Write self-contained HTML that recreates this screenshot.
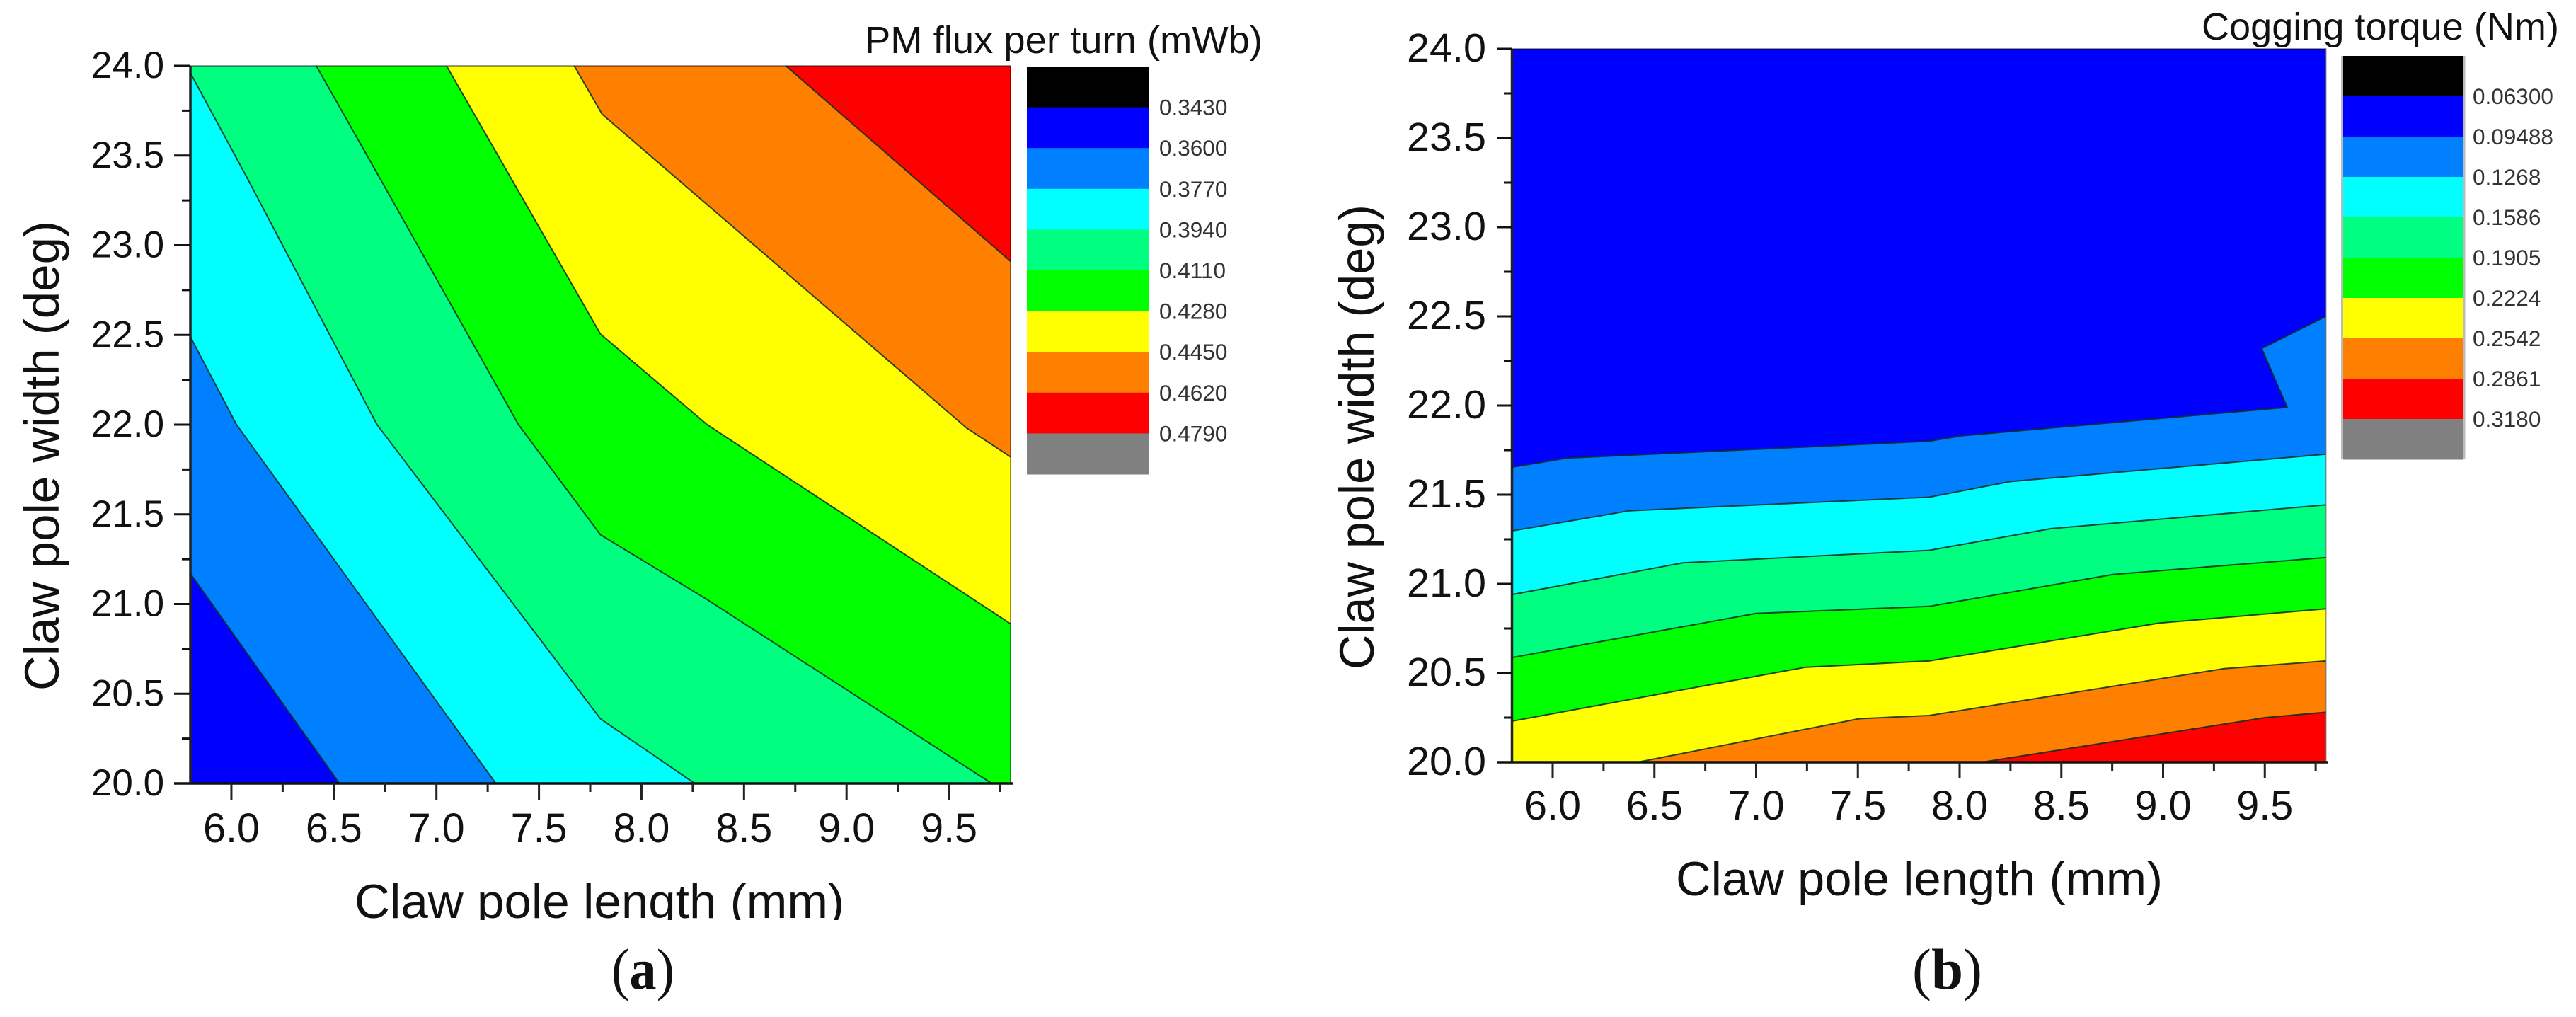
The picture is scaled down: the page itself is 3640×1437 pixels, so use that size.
<!DOCTYPE html>
<html lang="en">
<head>
<meta charset="utf-8">
<title>Claw pole contour plots</title>
<style>
html,body{margin:0;padding:0;background:#fff;}
body{width:3640px;height:1437px;overflow:hidden;}
svg{display:block;}
text{font-family:"Liberation Sans",Arial,sans-serif;fill:#111;}
.caption{font-family:"Liberation Serif","Times New Roman",serif;}
</style>
</head>
<body>
<svg id="figure" xmlns="http://www.w3.org/2000/svg" width="3640" height="1437" viewBox="0 0 3640 1437">
  <rect x="0" y="0" width="3640" height="1437" fill="#ffffff"/>
  <defs>
    <clipPath id="clip-xtitle-a"><rect x="400" y="1200" width="900" height="100"/></clipPath>
  </defs>

  <g id="panel-a"></g>
  <text x="1222" y="75" font-size="54" textLength="562" lengthAdjust="spacingAndGlyphs">PM flux per turn (mWb)</text>
  <text x="501" y="1297" font-size="68" textLength="692" lengthAdjust="spacingAndGlyphs" clip-path="url(#clip-xtitle-a)">Claw pole length (mm)</text>
  <text transform="translate(83,976) rotate(-90)" font-size="69" textLength="664" lengthAdjust="spacingAndGlyphs">Claw pole width (deg)</text>
  <text class="caption" x="864" y="1397" font-size="82" textLength="89" lengthAdjust="spacingAndGlyphs">(<tspan font-weight="bold">a</tspan>)</text>

  <g id="panel-b"></g>
  <text x="3111" y="56" font-size="54" textLength="505" lengthAdjust="spacingAndGlyphs">Cogging torque (Nm)</text>
  <text x="2368" y="1265" font-size="68" textLength="688" lengthAdjust="spacingAndGlyphs">Claw pole length (mm)</text>
  <text transform="translate(1941,946) rotate(-90)" font-size="69" textLength="657" lengthAdjust="spacingAndGlyphs">Claw pole width (deg)</text>
  <text class="caption" x="2702" y="1397" font-size="82" textLength="99" lengthAdjust="spacingAndGlyphs">(<tspan font-weight="bold">b</tspan>)</text>
</svg>

<script>
// Shared axis values
const xMajorTicks = [6.0, 6.5, 7.0, 7.5, 8.0, 8.5, 9.0, 9.5];
const xMinorTicks = [6.25, 6.75, 7.25, 7.75, 8.25, 8.75, 9.25, 9.75];
const yMajorTicks = [20.0, 20.5, 21.0, 21.5, 22.0, 22.5, 23.0, 23.5, 24.0];
const yMinorTicks = [20.25, 20.75, 21.25, 21.75, 22.25, 22.75, 23.25, 23.75];
const xRange = [5.8, 9.8];
const yRange = [20, 24];

// Contour-band colours: lowest to highest level
const legendColors = ['#000000', '#0000ff', '#0080ff', '#00ffff', '#00ff80', '#00ff00', '#ffff00', '#ff8000', '#ff0000', '#808080'];

// Panel (a): PM flux per turn
const fluxLevels = ['0.3430', '0.3600', '0.3770', '0.3940', '0.4110', '0.4280', '0.4450', '0.4620', '0.4790'];
const fluxContour360 = [[5.8, 21.17], [6.527, 20]];
const fluxContour377 = [[5.8, 22.49], [6.025, 22.0], [7.29, 20]];
const fluxContour394 = [[5.8, 23.96], [6.07, 23.39], [6.71, 22.0], [7.80, 20.36], [8.26, 20]];
const fluxContour411 = [[6.414, 24], [6.716, 23.39], [7.40, 22.0], [7.80, 21.386], [8.32, 21.025], [9.708, 20]];
const fluxContour428 = [[7.049, 24], [7.80, 22.505], [8.32, 22.0], [9.8, 20.89]];
const fluxContour445 = [[7.672, 24], [7.808, 23.73], [9.587, 21.98], [9.8, 21.82]];
const fluxContour462 = [[8.704, 24], [9.8, 22.91]];

// Panel (b): cogging torque
const torqueLevels = ['0.06300', '0.09488', '0.1268', '0.1586', '0.1905', '0.2224', '0.2542', '0.2861', '0.3180'];
const torqueContour127 = [[5.8, 21.654], [6.07, 21.705], [7.85, 21.80], [8.01, 21.83], [9.61, 21.99], [9.485, 22.32], [9.8, 22.50]];
const torqueContour159 = [[5.8, 21.297], [6.377, 21.41], [7.85, 21.486], [8.25, 21.574], [9.8, 21.727]];
const torqueContour191 = [[5.8, 20.94], [6.64, 21.118], [7.85, 21.188], [8.45, 21.31], [9.8, 21.443]];
const torqueContour222 = [[5.8, 20.587], [7.0, 20.834], [7.85, 20.874], [8.756, 21.053], [9.8, 21.148]];
const torqueContour254 = [[5.8, 20.23], [7.24, 20.532], [7.85, 20.568], [8.98, 20.78], [9.8, 20.86]];
const torqueContour286 = [[6.417, 20], [7.506, 20.244], [7.85, 20.262], [9.30, 20.525], [9.8, 20.568]];
const torqueContour318 = [[8.11, 20], [9.50, 20.25], [9.8, 20.28]];

const SVGNS = 'http://www.w3.org/2000/svg';

function make(parent, tag, attrs) {
  const el = document.createElementNS(SVGNS, tag);
  for (const k in attrs) el.setAttribute(k, attrs[k]);
  parent.appendChild(el);
  return el;
}

function drawPanel(root, layout, contours, bandColors, baseColor, closeCorner, levels) {
  const sx = v => layout.left + (v - xRange[0]) / (xRange[1] - xRange[0]) * (layout.right - layout.left);
  const sy = v => layout.bottom - (v - yRange[0]) / (yRange[1] - yRange[0]) * (layout.bottom - layout.top);
  const toPts = arr => arr.map(p => sx(p[0]).toFixed(1) + ',' + sy(p[1]).toFixed(1)).join(' ');

  const base = make(root, 'rect', { x: sx(xRange[0]), y: sy(yRange[1]), width: sx(xRange[1]) - sx(xRange[0]), height: sy(yRange[0]) - sy(yRange[1]), fill: baseColor });
  
  

  contours.forEach((line, i) => {
    const poly = make(root, 'polygon', { points: toPts(closeCorner(line)), fill: bandColors[i] });
    
    
  });
  contours.forEach(line => {
    const pl = make(root, 'polyline', { points: toPts(line), fill: 'none', stroke: '#0a2a20', 'stroke-width': 2, 'stroke-opacity': 0.85 });
    
    
  });

  // plot frame: thin top/right edges
  const frame = make(root, 'path', { d: `M${sx(xRange[0])} ${sy(yRange[1])}H${sx(xRange[1])}V${sy(yRange[0])}`, fill: 'none', stroke: '#000', 'stroke-opacity': 0.4, 'stroke-width': 2 });
  
  

  // axis lines
  const xAxis = make(root, 'line', { x1: layout.yMajorX, x2: sx(xRange[1]) + 3, y1: sy(yRange[0]), y2: sy(yRange[0]), stroke: '#111', 'stroke-width': 3.5 });
  
  
  const yAxis = make(root, 'line', { x1: sx(xRange[0]), x2: sx(xRange[0]), y1: sy(yRange[1]), y2: sy(yRange[0]), stroke: '#222', 'stroke-width': 3.5 });
  
  

  // ticks
  xMajorTicks.forEach(v => {
    const t = make(root, 'line', { x1: sx(v), x2: sx(v), y1: sy(yRange[0]), y2: sy(yRange[0]) + 23, stroke: '#222', 'stroke-width': 3 });
    
    
    const label = make(root, 'text', { x: sx(v), y: layout.xLabelY, 'font-size': layout.xFont, 'text-anchor': 'middle', textLength: 80, lengthAdjust: 'spacingAndGlyphs' });
    
    
    label.textContent = v.toFixed(1);
  });
  xMinorTicks.forEach(v => {
    const t = make(root, 'line', { x1: sx(v), x2: sx(v), y1: sy(yRange[0]), y2: sy(yRange[0]) + 12, stroke: '#222', 'stroke-width': 3 });
    
    
  });
  yMajorTicks.forEach(v => {
    const t = make(root, 'line', { x1: layout.yMajorX, x2: sx(xRange[0]), y1: sy(v), y2: sy(v), stroke: '#111', 'stroke-width': 3 });
    
    
    const label = make(root, 'text', { x: layout.yLabelRight, y: sy(v) + layout.yLabelDy, 'font-size': layout.yFont, 'text-anchor': 'end', textLength: layout.yLabelWidth, lengthAdjust: 'spacingAndGlyphs' });
    
    
    label.textContent = v.toFixed(1);
  });
  yMinorTicks.forEach(v => {
    const t = make(root, 'line', { x1: layout.yMinorX, x2: sx(xRange[0]), y1: sy(v), y2: sy(v), stroke: '#111', 'stroke-width': 3 });
    
    
  });

  // colour legend
  const frameRect = make(root, 'rect', { x: layout.legLeft - layout.legPad, y: layout.legTop, width: layout.legRight - layout.legLeft + 2 * layout.legPad, height: layout.legBottom - layout.legTop, fill: layout.legPadColor });
  
  
  const step = (layout.legBottom - layout.legTop) / legendColors.length;
  legendColors.forEach((c, i) => {
    const r = make(root, 'rect', { x: layout.legLeft, y: layout.legTop + i * step, width: layout.legRight - layout.legLeft, height: step + 0.5, fill: c });
    
    
  });
  levels.forEach((lab, i) => {
    const tx = make(root, 'text', { x: layout.legLabelX, y: layout.legTop + (i + 1) * step + 11, 'font-size': 31.5, style: 'fill:#333' });
    
    
    tx.textContent = lab;
  });
}

// (a) bands lie toward the top-right corner
function closeTopRight(line) {
  const pts = line.slice();
  const start = line[0], end = line[line.length - 1];
  if (end[1] === yRange[0]) pts.push([xRange[1], yRange[0]]);
  pts.push([xRange[1], yRange[1]]);
  if (start[0] === xRange[0]) pts.push([xRange[0], yRange[1]]);
  return pts;
}

// (b) bands lie toward the bottom edge
function closeBottom(line) {
  const pts = line.slice();
  const start = line[0], end = line[line.length - 1];
  if (end[0] === xRange[1]) pts.push([xRange[1], yRange[0]]);
  if (start[0] === xRange[0]) pts.push([xRange[0], yRange[0]]);
  return pts;
}

const fluxContours = [fluxContour360, fluxContour377, fluxContour394, fluxContour411, fluxContour428, fluxContour445, fluxContour462];
const fluxBandColors = ['#0080ff', '#00ffff', '#00ff80', '#00ff00', '#ffff00', '#ff8000', '#ff0000'];
const torqueContours = [torqueContour127, torqueContour159, torqueContour191, torqueContour222, torqueContour254, torqueContour286, torqueContour318];
const torqueBandColors = ['#0080ff', '#00ffff', '#00ff80', '#00ff00', '#ffff00', '#ff8000', '#ff0000'];

drawPanel(document.getElementById('panel-a'), {
  left: 269, right: 1428, top: 93, bottom: 1107,
  yMajorX: 246, yMinorX: 257, yLabelRight: 232, yLabelWidth: 103, yLabelDy: 17, yFont: 53,
  xLabelY: 1190, xFont: 58,
  legLeft: 1451, legRight: 1624, legTop: 94, legBottom: 670, legPad: 0, legPadColor: '#eeeeee', legLabelX: 1638
}, fluxContours, fluxBandColors, '#0000ff', closeTopRight, fluxLevels);

drawPanel(document.getElementById('panel-b'), {
  left: 2136.5, right: 3286.5, top: 69, bottom: 1077,
  yMajorX: 2115, yMinorX: 2125, yLabelRight: 2100, yLabelWidth: 112, yLabelDy: 18, yFont: 57,
  xLabelY: 1158, xFont: 58,
  legLeft: 3311, legRight: 3480.5, legTop: 79, legBottom: 649, legPad: 3, legPadColor: '#bbbbbb', legLabelX: 3494
}, torqueContours, torqueBandColors, '#0000ff', closeBottom, torqueLevels);
</script>
</body>
</html>
